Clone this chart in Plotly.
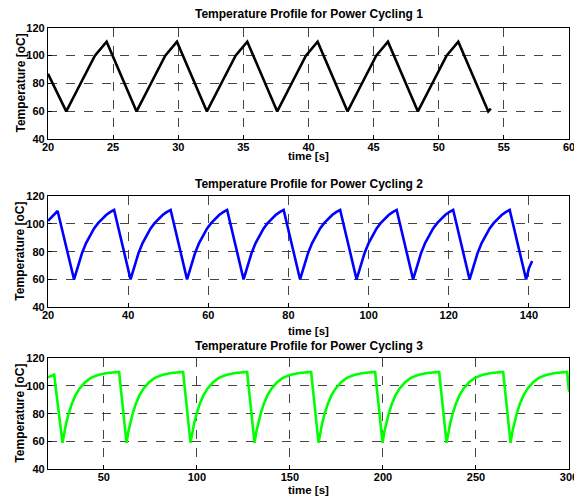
import plotly.graph_objects as go

# ---------- data ----------
t1 = [20.0, 21.4,
      22.5, 23.6, 24.5, 25.65, 26.8,
      27.9, 29.0, 29.9, 31.05, 32.2,
      33.3, 34.4, 35.3, 36.45, 37.6,
      38.7, 39.8, 40.7, 41.85, 43.0,
      44.1, 45.2, 46.1, 47.25, 48.4,
      49.5, 50.6, 51.5, 52.65, 53.8,
      54.0]
y1 = [87, 60,
      80, 100, 110, 85, 60,
      80, 100, 110, 85, 60,
      80, 100, 110, 85, 60,
      80, 100, 110, 85, 60,
      80, 100, 110, 85, 60,
      80, 100, 110, 85, 60,
      62]

t2 = [20.0, 21.0, 22.4,
      26.5, 27.5, 28.5, 29.5, 30.5, 31.5, 32.5, 33.5, 34.5, 35.5, 36.5,
      40.6, 41.6, 42.6, 43.6, 44.6, 45.6, 46.6, 47.6, 48.6, 49.6, 50.6,
      54.7, 55.7, 56.7, 57.7, 58.7, 59.7, 60.7, 61.7, 62.7, 63.7, 64.7,
      68.8, 69.8, 70.8, 71.8, 72.8, 73.8, 74.8, 75.8, 76.8, 77.8, 78.8,
      82.9, 83.9, 84.9, 85.9, 86.9, 87.9, 88.9, 89.9, 90.9, 91.9, 92.9,
      97.0, 98.0, 99.0, 100.0, 101.0, 102.0, 103.0, 104.0, 105.0, 106.0, 107.0,
      111.1, 112.1, 113.1, 114.1, 115.1, 116.1, 117.1, 118.1, 119.1, 120.1, 121.1,
      125.2, 126.2, 127.2, 128.2, 129.2, 130.2, 131.2, 132.2, 133.2, 134.2, 135.2,
      139.3, 140.0, 140.8]
y2 = [102.2, 105.0, 109.2,
      60, 70.5, 79.1, 86.2, 92.0, 96.7, 100.5, 103.7, 106.3, 108.4, 110.0,
      60, 70.5, 79.1, 86.2, 92.0, 96.7, 100.5, 103.7, 106.3, 108.4, 110.0,
      60, 70.5, 79.1, 86.2, 92.0, 96.7, 100.5, 103.7, 106.3, 108.4, 110.0,
      60, 70.5, 79.1, 86.2, 92.0, 96.7, 100.5, 103.7, 106.3, 108.4, 110.0,
      60, 70.5, 79.1, 86.2, 92.0, 96.7, 100.5, 103.7, 106.3, 108.4, 110.0,
      60, 70.5, 79.1, 86.2, 92.0, 96.7, 100.5, 103.7, 106.3, 108.4, 110.0,
      60, 70.5, 79.1, 86.2, 92.0, 96.7, 100.5, 103.7, 106.3, 108.4, 110.0,
      60, 70.5, 79.1, 86.2, 92.0, 96.7, 100.5, 103.7, 106.3, 108.4, 110.0,
      60, 68.0, 73.3]

t3 = [20.0, 23.3,
      27.8, 28.8, 29.8, 31.3, 32.8, 34.8, 36.8, 39.8, 42.8, 46.8, 51.8, 58.2,
      62.2, 63.2, 64.2, 65.7, 67.2, 69.2, 71.2, 74.2, 77.2, 81.2, 86.2, 92.6,
      96.6, 97.6, 98.6, 100.1, 101.6, 103.6, 105.6, 108.6, 111.6, 115.6, 120.6, 127.0,
      131.0, 132.0, 133.0, 134.5, 136.0, 138.0, 140.0, 143.0, 146.0, 150.0, 155.0, 161.4,
      165.4, 166.4, 167.4, 168.9, 170.4, 172.4, 174.4, 177.4, 180.4, 184.4, 189.4, 195.8,
      199.8, 200.8, 201.8, 203.3, 204.8, 206.8, 208.8, 211.8, 214.8, 218.8, 223.8, 230.2,
      234.2, 235.2, 236.2, 237.7, 239.2, 241.2, 243.2, 246.2, 249.2, 253.2, 258.2, 264.6,
      268.6, 269.6, 270.6, 272.1, 273.6, 275.6, 277.6, 280.6, 283.6, 287.6, 292.6, 299.0,
      300.0]
y3 = [106.1, 108.0,
      59, 67.2, 73.4, 81.0, 87.1, 93.3, 97.8, 102.5, 105.5, 107.8, 109.2, 110.0,
      59, 67.2, 73.4, 81.0, 87.1, 93.3, 97.8, 102.5, 105.5, 107.8, 109.2, 110.0,
      59, 67.2, 73.4, 81.0, 87.1, 93.3, 97.8, 102.5, 105.5, 107.8, 109.2, 110.0,
      59, 67.2, 73.4, 81.0, 87.1, 93.3, 97.8, 102.5, 105.5, 107.8, 109.2, 110.0,
      59, 67.2, 73.4, 81.0, 87.1, 93.3, 97.8, 102.5, 105.5, 107.8, 109.2, 110.0,
      59, 67.2, 73.4, 81.0, 87.1, 93.3, 97.8, 102.5, 105.5, 107.8, 109.2, 110.0,
      59, 67.2, 73.4, 81.0, 87.1, 93.3, 97.8, 102.5, 105.5, 107.8, 109.2, 110.0,
      59, 67.2, 73.4, 81.0, 87.1, 93.3, 97.8, 102.5, 105.5, 107.8, 109.2, 110.0,
      95.8]

titles = ["Temperature Profile for Power Cycling 1",
          "Temperature Profile for Power Cycling 2",
          "Temperature Profile for Power Cycling 3"]
x_title = "time [s]"
y_title = "Temperature [oC]"
x_ranges = [[20, 60], [20, 150], [20, 300]]
x_ticks = [[20, 25, 30, 35, 40, 45, 50, 55, 60],
           [20, 40, 60, 80, 100, 120, 140],
           [50, 100, 150, 200, 250, 300]]
y_ticks = [40, 60, 80, 100, 120]
colors = ["#000000", "#0000FF", "#00FF00"]

# ---------- layout ----------
OX, OY = 8, 8                 # page body margin offset
W, H = 582 - OX, 497 - OY     # figure size
PL, PR = 48, 569              # plot left/right in page px
L = PL - OX
R = W - (PR - OX)
panels = [(27.7, 139.3), (196.0, 307.3), (358.0, 469.3)]   # top, bottom in page px
title_y = [14.5, 184, 345.5]
xlab_y = [156, 330.5, 489.5]
ylab_x = 20

FONT = "Liberation Sans, Arial, sans-serif"
PW = W - L - R

def fy(px):
    return 1 - (px - OY) / H

def fx(px):
    return (px - OX - L) / PW

fig = go.Figure()
series = [(t1, y1), (t2, y2), (t3, y3)]
annotations = []
for i, ((tx, ty), col) in enumerate(zip(series, colors)):
    n = "" if i == 0 else str(i + 1)
    fig.add_trace(go.Scatter(x=tx, y=ty, mode="lines",
                             line=dict(color=col, width=2.6),
                             xaxis="x" + n, yaxis="y" + n, showlegend=False))
    top, bot = panels[i]
    common = dict(showgrid=True, gridcolor="#444444", griddash="dash", gridwidth=1,
                  showline=True, linecolor="black", linewidth=1.3, mirror=True,
                  ticks="inside", ticklen=4, tickcolor="black",
                  tickfont=dict(family=FONT, size=11, color="black", weight="bold"),
                  zeroline=False, automargin=False)
    ax = dict(range=x_ranges[i], tickvals=x_ticks[i], anchor="y" + n,
              domain=[0, 1], ticklabelstandoff=-3, **common)
    ay = dict(range=[40, 120], tickvals=y_ticks, anchor="x" + n,
              domain=[fy(bot), fy(top)], ticklabelstandoff=0, **common)
    fig.update_layout(**{"xaxis" + n: ax, "yaxis" + n: ay})
    annotations.append(dict(text="<b>" + titles[i] + "</b>", xref="paper", yref="paper",
                            x=0.5, y=fy(title_y[i]), xanchor="center", yanchor="middle",
                            showarrow=False, font=dict(family=FONT, size=12, color="black")))
    annotations.append(dict(text="<b>" + x_title + "</b>", xref="paper", yref="paper",
                            x=0.5, y=fy(xlab_y[i]), xanchor="center", yanchor="middle",
                            showarrow=False, font=dict(family=FONT, size=11.5, color="black")))
    annotations.append(dict(text="<b>" + y_title + "</b>", xref="paper", yref="paper",
                            x=fx(ylab_x), y=fy((top + bot) / 2),
                            xanchor="center", yanchor="middle", textangle=-90,
                            showarrow=False, font=dict(family=FONT, size=12, color="black")))

fig.update_layout(width=W, height=H, margin=dict(l=L, r=R, t=0, b=0, autoexpand=False),
                  paper_bgcolor="white", plot_bgcolor="white",
                  template="none", annotations=annotations)

fig.write_html("out.html")
